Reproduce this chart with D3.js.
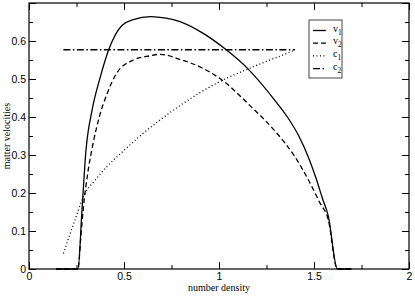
<script src="https://cdnjs.cloudflare.com/ajax/libs/d3/7.8.5/d3.min.js"></script>
<style>
  body { margin: 0; background: #fff; }
  svg { font-family: 'Liberation Serif', 'Times New Roman', serif; }
  .tick text { font-size: 10.5px; fill: #000; }
  .domain { display: none; }
</style>
<body>
<div id="chart"></div>
<script>

// data
let v1X = [0.142, 0.258, 0.279, 0.300, 0.332, 0.374, 0.421, 0.489, 0.549, 0.64, 0.69, 0.795, 0.917, 1.035, 1.15, 1.30, 1.36, 1.42, 1.47, 1.51, 1.545, 1.575, 1.623, 1.698];
let v1Y = [0, 0, 0.156, 0.313, 0.418, 0.503, 0.579, 0.641, 0.656, 0.664, 0.662, 0.651, 0.620, 0.578, 0.528, 0.44, 0.40, 0.35, 0.295, 0.24, 0.185, 0.14, 0, 0];

let v2X = [0.142, 0.258, 0.272, 0.286, 0.31, 0.335, 0.37, 0.41, 0.461, 0.549, 0.637, 0.689, 0.804, 0.9, 1.019, 1.163, 1.30, 1.40, 1.47, 1.53, 1.575, 1.623, 1.698];
let v2Y = [0, 0, 0.08, 0.16, 0.255, 0.325, 0.40, 0.46, 0.515, 0.55, 0.561, 0.565, 0.55, 0.532, 0.496, 0.43, 0.36, 0.295, 0.235, 0.175, 0.13, 0, 0];

let c1X = [0.181, 0.242, 0.286, 0.35, 0.409, 0.50, 0.584, 0.70, 0.80, 0.9, 1.019, 1.15, 1.268, 1.365, 1.40];
let c1Y = [0.041, 0.129, 0.190, 0.235, 0.269, 0.312, 0.350, 0.396, 0.432, 0.464, 0.497, 0.526, 0.55, 0.569, 0.577];

let c2X = [0.181, 1.40];
let c2Y = [0.577, 0.577];

let xMajor = [0, 0.5, 1, 1.5, 2];
let xMinor = [0.25, 0.75, 1.25, 1.75];
let yMajor = [0, 0.1, 0.2, 0.3, 0.4, 0.5, 0.6, 0.7];
let yMinor = [0.05, 0.15, 0.25, 0.35, 0.45, 0.55, 0.65];
let yLabels = ["0", "0.1", "0.2", "0.3", "0.4", "0.5", "0.6", ""];

let series = [
  {name: "v", sub: "1", xs: v1X, ys: v1Y, dash: null},
  {name: "v", sub: "2", xs: v2X, ys: v2Y, dash: "5,3"},
  {name: "c", sub: "1", xs: c1X, ys: c1Y, dash: "1,2.5"},
  {name: "c", sub: "2", xs: c2X, ys: c2Y, dash: "7,2.5,1.5,2.5"}
];

let W = 415, H = 296;
let pLeft = 29, pRight = 409, pTop = 3, pBottom = 269;

let x = d3.scaleLinear().domain([0, 2]).range([pLeft, pRight]);
let y = d3.scaleLinear().domain([0, 0.7]).range([pBottom, pTop]);

let svg = d3.select("#chart").append("svg")
  .attr("width", W)
  .attr("height", H);

// axes, ticks pointing inward
svg.append("g")
   .attr("transform", "translate(0," + pBottom + ")")
   .call(d3.axisBottom(x).tickValues(xMajor).tickSize(-7).tickPadding(4).tickFormat(d3.format("")));
svg.append("g")
   .attr("transform", "translate(0," + pBottom + ")")
   .call(d3.axisBottom(x).tickValues(xMinor).tickSize(-4).tickFormat(""));
svg.append("g")
   .attr("transform", "translate(0," + pTop + ")")
   .call(d3.axisTop(x).tickValues(xMajor).tickSize(-7).tickFormat(""));
svg.append("g")
   .attr("transform", "translate(0," + pTop + ")")
   .call(d3.axisTop(x).tickValues(xMinor).tickSize(-4).tickFormat(""));

svg.append("g")
   .attr("transform", "translate(" + pLeft + ",0)")
   .call(d3.axisLeft(y).tickValues(yMajor).tickSize(-7).tickPadding(3)
           .tickFormat((d, i) => yLabels[i]));
svg.append("g")
   .attr("transform", "translate(" + pLeft + ",0)")
   .call(d3.axisLeft(y).tickValues(yMinor).tickSize(-4).tickFormat(""));
svg.append("g")
   .attr("transform", "translate(" + pRight + ",0)")
   .call(d3.axisRight(y).tickValues(yMajor).tickSize(-7).tickFormat(""));
svg.append("g")
   .attr("transform", "translate(" + pRight + ",0)")
   .call(d3.axisRight(y).tickValues(yMinor).tickSize(-4).tickFormat(""));

svg.selectAll(".tick line").attr("stroke", "#000");

// frame
svg.append("rect")
   .attr("x", pLeft)
   .attr("y", pTop)
   .attr("width", pRight - pLeft)
   .attr("height", pBottom - pTop)
   .attr("fill", "none")
   .attr("stroke", "#000")
   .attr("stroke-width", 1.2);

// curves
let line = d3.line()
  .x(d => x(d[0]))
  .y(d => y(d[1]))
  .curve(d3.curveMonotoneX);

series.forEach(function(s) {
  let pts = s.xs.map((v, i) => [v, s.ys[i]]);
  svg.append("path")
     .datum(pts)
     .attr("d", line)
     .attr("fill", "none")
     .attr("stroke", "#000")
     .attr("stroke-width", 1.3)
     .attr("stroke-dasharray", s.dash);
});

// axis titles
svg.append("text")
   .attr("x", x(1))
   .attr("y", 291)
   .attr("text-anchor", "middle")
   .attr("font-size", "10px")
   .text("number density");

svg.append("text")
   .attr("transform", "translate(10," + ((pTop + pBottom) / 2) + ") rotate(-90)")
   .attr("text-anchor", "middle")
   .attr("font-size", "10px")
   .text("matter velocities");

// legend
let lg = svg.append("g").attr("transform", "translate(309,20)");
lg.append("rect")
  .attr("width", 33)
  .attr("height", 58)
  .attr("fill", "#fff")
  .attr("stroke", "#444")
  .attr("stroke-width", 1);

series.forEach(function(s, i) {
  let ry = 10.5 + i * 12.7;
  lg.append("line")
    .attr("x1", 4)
    .attr("x2", 17)
    .attr("y1", ry)
    .attr("y2", ry)
    .attr("stroke", "#000")
    .attr("stroke-width", 1.3)
    .attr("stroke-dasharray", s.dash);
  let t = lg.append("text")
    .attr("x", 24)
    .attr("y", ry + 1)
    .attr("font-size", "10px");
  t.append("tspan").text(s.name);
  t.append("tspan")
   .attr("font-size", "7.5px")
   .attr("dy", 3)
   .text(s.sub);
});

</script>
</body>
